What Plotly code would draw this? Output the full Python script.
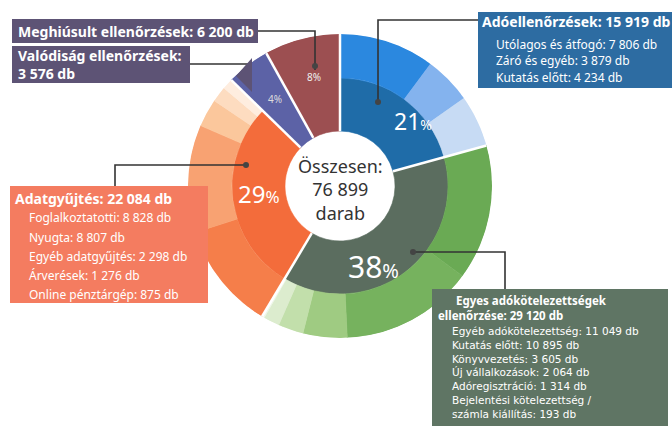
import plotly.graph_objects as go

# ---------------- data ----------------
categories = ["Adóellenőrzések", "Egyes adókötelezettségek ellenőrzése", "Adatgyűjtés",
              "Valódiság ellenőrzések", "Meghiúsult ellenőrzések"]
totals = [15919, 29120, 22084, 3576, 6200]
pct_labels = ["21%", "38%", "29%", "4%", "8%"]

ado_labels = ["Utólagos és átfogó", "Záró és egyéb", "Kutatás előtt"]
ado_values = [7806, 3879, 4234]

egyes_labels = ["Egyéb adókötelezettség", "Kutatás előtt", "Könyvvezetés",
                "Új vállalkozások", "Adóregisztráció", "Bejelentési kötelezettség / számla kiállítás"]
egyes_values = [11049, 10895, 3605, 2064, 1314, 193]

adat_labels = ["Foglalkoztatotti", "Nyugta", "Egyéb adatgyűjtés", "Árverések", "Online pénztárgép"]
adat_values = [8828, 8807, 2298, 1276, 875]

sub_labels = [ado_labels, egyes_labels, adat_labels, None, None]
sub_values = [ado_values, egyes_values, adat_values, None, None]

# ---------------- styles ----------------
W, H = 672, 426
inner_colors = ["#1f6ca8", "#5b6d5f", "#f36c3b", "#5c62a6", "#9c4f51"]
outer_colors = [
    ["#2b88df", "#84b3ee", "#c7dbf4"],
    ["#6aaa54", "#76b25e", "#9fcb82", "#c2dfab", "#dcecce", "#eef6e8"],
    ["#f57e4a", "#f8a272", "#fbc79c", "#fddcc0", "#feeddf"],
    None, None,
]
box_colors = ["#2d6ca2", "#5f7564", "#f47c60", "#5d5375", "#5d5375"]

R_HOLE, R_MID, R_OUT = 55, 108, 152
CX, CY = 340, 186

def fx(x):
    return x / W

def fy(y):
    return 1 - y / H

def fmt(n):
    return f"{n:,}".replace(",", " ")

grand = sum(totals)

fig = go.Figure()

th, wd, base, rr, cols = [], [], [], [], []
start = 0.0
bounds = []
for i, tot in enumerate(totals):
    span = tot / grand * 360
    bounds.append(start)
    if sub_values[i] is None:
        th.append(start + span / 2); wd.append(span); base.append(R_HOLE)
        rr.append(R_OUT - R_HOLE); cols.append(inner_colors[i])
    else:
        th.append(start + span / 2); wd.append(span); base.append(R_HOLE)
        rr.append(R_MID - R_HOLE); cols.append(inner_colors[i])
        s = start
        for j, v in enumerate(sub_values[i]):
            sp = v / grand * 360
            th.append(s + sp / 2); wd.append(sp); base.append(R_MID)
            rr.append(R_OUT - R_MID); cols.append(outer_colors[i][j])
            s += sp
    start += span

fig.add_trace(go.Barpolar(
    theta=th, width=wd, base=base, r=rr,
    marker=dict(color=cols, line=dict(color=cols, width=0.6)),
    hoverinfo="skip", showlegend=False,
))

sep_t, sep_r = [], []
for b in bounds:
    sep_t += [b, b, None]
    sep_r += [R_HOLE, R_OUT, None]
fig.add_trace(go.Scatterpolar(
    theta=sep_t, r=sep_r, mode="lines",
    line=dict(color="white", width=2.5),
    hoverinfo="skip", showlegend=False,
))

fig.update_layout(
    width=W, height=H,
    margin=dict(l=0, r=0, t=0, b=0),
    paper_bgcolor="white", plot_bgcolor="white",
    polar=dict(
        domain=dict(x=[fx(CX - R_OUT), fx(CX + R_OUT)], y=[fy(CY + R_OUT), fy(CY - R_OUT)]),
        radialaxis=dict(range=[0, R_OUT], visible=False),
        angularaxis=dict(rotation=90, direction="clockwise", visible=False),
        bgcolor="rgba(0,0,0,0)", bargap=0,
    ),
    font=dict(family="Noto Sans", color="white"),
)

shapes = []
annots = []

def box(x0, y0, x1, y1, color):
    shapes.append(dict(type="rect", xref="paper", yref="paper",
                       x0=fx(x0), x1=fx(x1), y0=fy(y1), y1=fy(y0),
                       fillcolor=color, line=dict(width=0), layer="above"))

def txt(x, y, s, size, bold=False, color="white", xanchor="left", yanchor="middle",
        family="Noto Sans", align="left"):
    annots.append(dict(x=fx(x), y=fy(y), xref="paper", yref="paper", text=(f"<b>{s}</b>" if bold else s),
                       showarrow=False, xanchor=xanchor, yanchor=yanchor, align=align,
                       font=dict(size=size, color=color, family=family)))

def line(pts, color="#333333", width=1.6):
    path = "M " + " L ".join(f"{fx(x)},{fy(y)}" for x, y in pts)
    shapes.append(dict(type="path", xref="paper", yref="paper", path=path,
                       line=dict(color=color, width=width), layer="above"))

def dot(x, y, r=3, color="#444444"):
    shapes.append(dict(type="circle", xref="paper", yref="paper",
                       x0=fx(x - r), x1=fx(x + r), y0=fy(y + r), y1=fy(y - r),
                       fillcolor=color, line=dict(width=0), layer="above"))

# connectors
line([(258, 31), (315, 31), (315, 70)])
dot(315, 66)
line([(190, 64), (250, 64)])
shapes.append(dict(type="path", xref="paper", yref="paper",
                   path=f"M {fx(252)},{fy(58)} L {fx(236)},{fy(76)} L {fx(252)},{fy(92)} Z",
                   fillcolor=box_colors[3], line=dict(width=0), layer="above"))
line([(478, 20), (378, 20), (378, 104)])
dot(378, 102)
line([(115, 186), (115, 165), (246, 165)])
dot(246, 165)
line([(413, 252), (505, 252), (505, 290)])
dot(413, 252)

# boxes
box(12, 19, 258, 43, box_colors[4])
txt(16, 31, f"Meghiúsult ellenőrzések: {fmt(totals[4])} db", 14, bold=True)

box(12, 46, 190, 83, box_colors[3])
txt(16, 64.5, f"Valódiság ellenőrzések:<br>{fmt(totals[3])} db", 14, bold=True)

box(478, 12, 672, 88, box_colors[0])
txt(480, 22, f"{categories[0]}: {fmt(totals[0])} db", 14, bold=True)
for k, (lab, v) in enumerate(zip(ado_labels, ado_values)):
    txt(494, 44 + k * 17, f"{lab}: {fmt(v)} db", 12)

box(10, 186, 208, 303, box_colors[2])
txt(13, 198, f"{categories[2]}: {fmt(totals[2])} db", 14, bold=True)
for k, (lab, v) in enumerate(zip(adat_labels, adat_values)):
    txt(27, 218 + k * 19, f"{lab}: {fmt(v)} db", 12)

box(432, 289, 668, 426, box_colors[1])
txt(436, 291, "&nbsp;&nbsp;&nbsp;&nbsp;&nbsp;&nbsp;Egyes adókötelezettségek<br>ellenőrzése: "
    + f"{fmt(totals[1])} db", 11.5, bold=True, yanchor="top")
egyes_lines = [f"{l}: {fmt(v)} db" for l, v in zip(egyes_labels[:-1], egyes_values[:-1])]
last = egyes_labels[-1].split(" / ")
egyes_lines += [last[0] + " /", f"{last[1]}: {fmt(egyes_values[-1])} db"]
for k, s in enumerate(egyes_lines):
    txt(450, 331 + k * 13.8, s, 10.5, family="DejaVu Sans")

# percentages
txt(413, 121, pct_labels[0].replace("%", "<span style='font-size:14px'>%</span>"), 23, xanchor="center")
txt(373, 266, pct_labels[1].replace("%", "<span style='font-size:20px'>%</span>"), 30, xanchor="center")
txt(259, 193, pct_labels[2].replace("%", "<span style='font-size:17px'>%</span>"), 24, xanchor="center")
txt(275, 99, pct_labels[3], 10, xanchor="center", color="#dddddd")
txt(314, 77, pct_labels[4], 10, xanchor="center", color="#eeeeee")

# center
txt(CX, 189, f"Összesen:<br>{fmt(grand)}<br>darab", 18, xanchor="center", color="#333333",
    align="center")

fig.update_layout(shapes=shapes, annotations=annots)
fig.write_html("out.html", config={"displayModeBar": False},
               post_script="document.body.style.margin='0';document.body.style.overflow='hidden';")
